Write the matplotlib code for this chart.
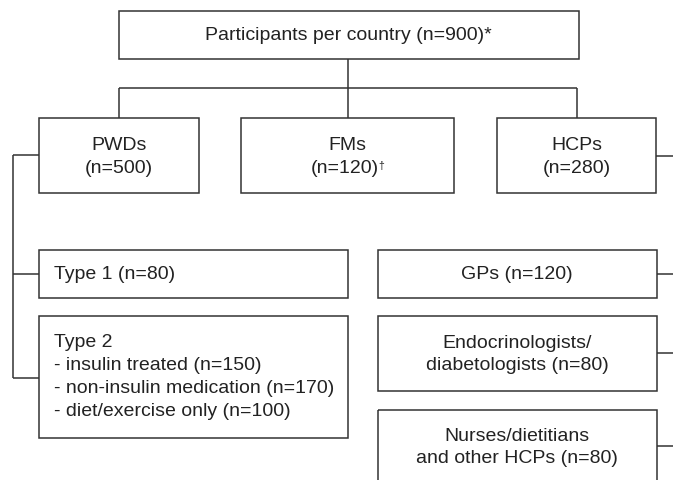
import matplotlib.pyplot as plt
from matplotlib.patches import Rectangle

# chart content
total_label = "Participants per country"
total_n = 900
groups = ["PWDs", "FMs", "HCPs"]
group_n = [500, 120, 280]
pwd_types = ["Type 1", "Type 2"]
pwd_type_n = [80, None]
type2_subgroups = ["insulin treated", "non-insulin medication", "diet/exercise only"]
type2_n = [150, 170, 100]
hcp_types = ["GPs", "Endocrinologists/\ndiabetologists", "Nurses/dietitians\nand other HCPs"]
hcp_n = [120, 80, 80]

LC = "#333333"
TC = "#222222"
LW = 1.1
FS = 14
plt.rcParams["font.family"] = ["Liberation Sans", "DejaVu Sans"]

fig = plt.figure(figsize=(6.73, 4.81), dpi=100)
ax = fig.add_axes([0, 0, 1, 1])
ax.set_xlim(0, 673)
ax.set_ylim(481, 0)
ax.axis("off")


def box(x0, y0, x1, y1):
    ax.add_patch(Rectangle((x0, y0), x1 - x0, y1 - y0, fill=False,
                           edgecolor=LC, linewidth=LW))


def line(xs, ys):
    ax.plot(xs, ys, color=LC, linewidth=LW, solid_capstyle="butt")


def txt(x, y, s, ha="center"):
    return ax.text(x, y, s, ha=ha, va="center", fontsize=FS, color=TC,
                   linespacing=1.42)


# top box
box(119, 12, 579, 60)
txt(348, 36, f"{total_label} (n={total_n})*")
line([348, 348], [60, 119])
line([119, 577], [89, 89])
line([119, 119], [89, 119])
line([577, 577], [89, 119])

# group boxes
group_x = [(39, 199), (241, 454), (497, 656)]
for (x0, x1), name, n in zip(group_x, groups, group_n):
    box(x0, 119, x1, 194)
    cx = (x0 + x1) / 2
    txt(cx, 146, name)
    if name == "FMs":
        t = txt(cx - 3, 169, f"(n={n})")
        ax.annotate("\u2020", xy=(1, 0.97), xycoords=t, xytext=(-0.2, 0),
                    textcoords="offset points", ha="left", va="top",
                    fontsize=7.5, color=TC)
    else:
        txt(cx, 169, f"(n={n})")

# PWD branch
line([13, 13], [156, 379])
line([13, 39], [156, 156])
box(39, 251, 348, 299)
line([13, 39], [275, 275])
txt(54, 275, f"{pwd_types[0]} (n={pwd_type_n[0]})", ha="left")
box(39, 317, 348, 439)
line([13, 39], [379, 379])
t2_lines = [pwd_types[1]] + [f"- {s} (n={n})" for s, n in zip(type2_subgroups, type2_n)]
for i, s in enumerate(t2_lines):
    txt(54, 343 + i * 23, s, ha="left")

# HCP branch
line([656, 673], [157, 157])
hcp_y = [(251, 299), (317, 392), (411, 490)]
hcp_text_y = [275, 354.5, 447.5]
hcp_line_y = [275, 354, 447]
for (y0, y1), ty, ly, name, n in zip(hcp_y, hcp_text_y, hcp_line_y, hcp_types, hcp_n):
    box(378, y0, 657, y1)
    txt(517, ty, f"{name} (n={n})")
    line([657, 673], [ly, ly])

fig.savefig("out.png", dpi=100)
